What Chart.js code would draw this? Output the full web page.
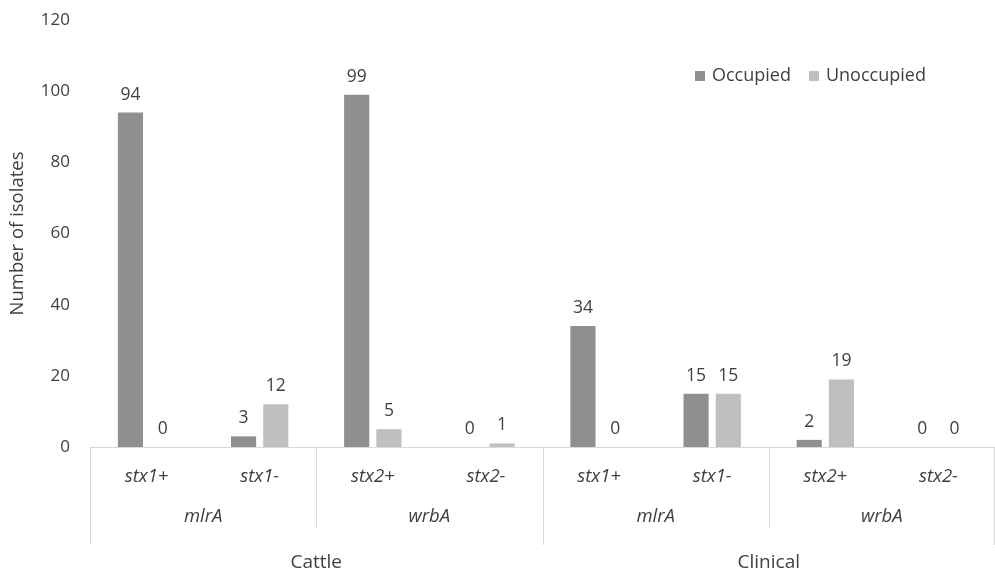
<!DOCTYPE html>
<html lang="en">
<head>
    <meta charset="UTF-8">
    <title>Isolates by gene</title>
    <script src="https://cdn.jsdelivr.net/npm/chart.js"></script>
    <style>
        body { margin: 0; background: #fff; }
        #wrap { width: 995px; height: 576px; }
    </style>
</head>
<body>
<div id="wrap">
    <canvas id="isolates-chart" width="995" height="576"></canvas>
</div>

<script>
    // data
    const categories = ['stx1+', 'stx1-', 'stx2+', 'stx2-', 'stx1+', 'stx1-', 'stx2+', 'stx2-'];
    const genes = ['mlrA', 'wrbA', 'mlrA', 'wrbA'];      // each covers 2 categories
    const sources = ['Cattle', 'Clinical'];              // each covers 4 categories
    const occupied = [94, 3, 99, 0, 34, 15, 2, 0];
    const unoccupied = [0, 12, 5, 1, 0, 15, 19, 0];
    const yTicks = [0, 20, 40, 60, 80, 100, 120];

    const textColor = '#404040';
    const lineColor = '#d9d9d9';
    const fontFamily = '"Open Sans", Lato, sans-serif';

    // value labels above each bar
    const barValues = {
        id: 'barValues',
        afterDatasetsDraw(chart) {
            const ctx = chart.ctx;
            ctx.save();
            ctx.font = '17.5px ' + fontFamily;
            ctx.fillStyle = textColor;
            ctx.textAlign = 'center';
            ctx.textBaseline = 'alphabetic';
            chart.data.datasets.forEach((ds, di) => {
                const meta = chart.getDatasetMeta(di);
                meta.data.forEach((bar, i) => {
                    ctx.fillText(String(ds.data[i]), bar.x, bar.y - 13);
                });
            });
            ctx.restore();
        }
    };

    // multi level category axis + legend
    const groupAxis = {
        id: 'groupAxis',
        afterDraw(chart) {
            const ctx = chart.ctx;
            const x = chart.scales.x;
            const bottom = chart.chartArea.bottom;
            const step = x.getPixelForValue(1) - x.getPixelForValue(0);
            const edge = i => x.getPixelForValue(i) - step / 2;

            ctx.save();
            ctx.strokeStyle = lineColor;
            ctx.lineWidth = 1;
            for (let i = 0; i <= categories.length; i += 2) {
                const px = Math.min(Math.round(edge(i)) + 0.5, chart.width - 0.5);
                const outer = i % 4 === 0;
                ctx.beginPath();
                ctx.moveTo(px, bottom);
                ctx.lineTo(px, outer ? 545 : 528);
                ctx.stroke();
            }

            ctx.fillStyle = textColor;
            ctx.textAlign = 'center';
            ctx.textBaseline = 'middle';
            ctx.font = 'italic 18.5px ' + fontFamily;
            genes.forEach((g, k) => {
                ctx.fillText(g, (edge(k * 2) + edge(k * 2 + 2)) / 2, 517);
            });
            ctx.font = '19px ' + fontFamily;
            sources.forEach((s, k) => {
                ctx.fillText(s, (edge(k * 4) + edge(k * 4 + 4)) / 2, 563);
            });

            // legend
            let lx = 695;
            const ly = 76;
            ctx.font = '18px ' + fontFamily;
            ctx.textAlign = 'left';
            chart.data.datasets.forEach(ds => {
                ctx.fillStyle = ds.backgroundColor;
                ctx.fillRect(lx, ly - 5, 10, 10);
                ctx.fillStyle = textColor;
                ctx.fillText(ds.label, lx + 17, ly);
                lx += 17 + ctx.measureText(ds.label).width + 18;
            });
            ctx.restore();
        }
    };

    const ctx = document.getElementById('isolates-chart').getContext('2d');
    new Chart(ctx, {
        type: 'bar',
        data: {
            labels: categories,
            datasets: [
                { label: 'Occupied', data: occupied, backgroundColor: '#8f8f8f' },
                { label: 'Unoccupied', data: unoccupied, backgroundColor: '#bfbfbf' }
            ]
        },
        options: {
            responsive: false,
            animation: false,
            layout: { padding: { top: 20, right: 0, bottom: 0, left: 0 } },
            datasets: {
                bar: { categoryPercentage: 0.57, barPercentage: 0.78 }
            },
            plugins: {
                legend: { display: false },
                tooltip: { enabled: false }
            },
            scales: {
                x: {
                    grid: { display: false, drawTicks: false },
                    border: { display: true, color: lineColor },
                    ticks: {
                        padding: 19,
                        color: textColor,
                        font: { family: fontFamily, size: 18.5, style: 'italic' }
                    },
                    afterFit(scale) { scale.height = 129; }
                },
                y: {
                    min: 0,
                    max: 120,
                    grid: { display: false, drawTicks: false },
                    border: { display: false },
                    afterBuildTicks(scale) { scale.ticks = yTicks.map(v => ({ value: v })); },
                    ticks: {
                        padding: 20,
                        color: textColor,
                        font: { family: fontFamily, size: 17 }
                    },
                    title: {
                        display: true,
                        text: 'Number of isolates',
                        color: textColor,
                        font: { family: fontFamily, size: 18.5 },
                        padding: { top: 7, bottom: 0 }
                    },
                    afterFit(scale) {
                        scale.width = 90;
                        scale.paddingTop = 0;
                        scale.paddingBottom = 0;
                    }
                }
            }
        },
        plugins: [barValues, groupAxis]
    });
</script>
</body>
</html>
